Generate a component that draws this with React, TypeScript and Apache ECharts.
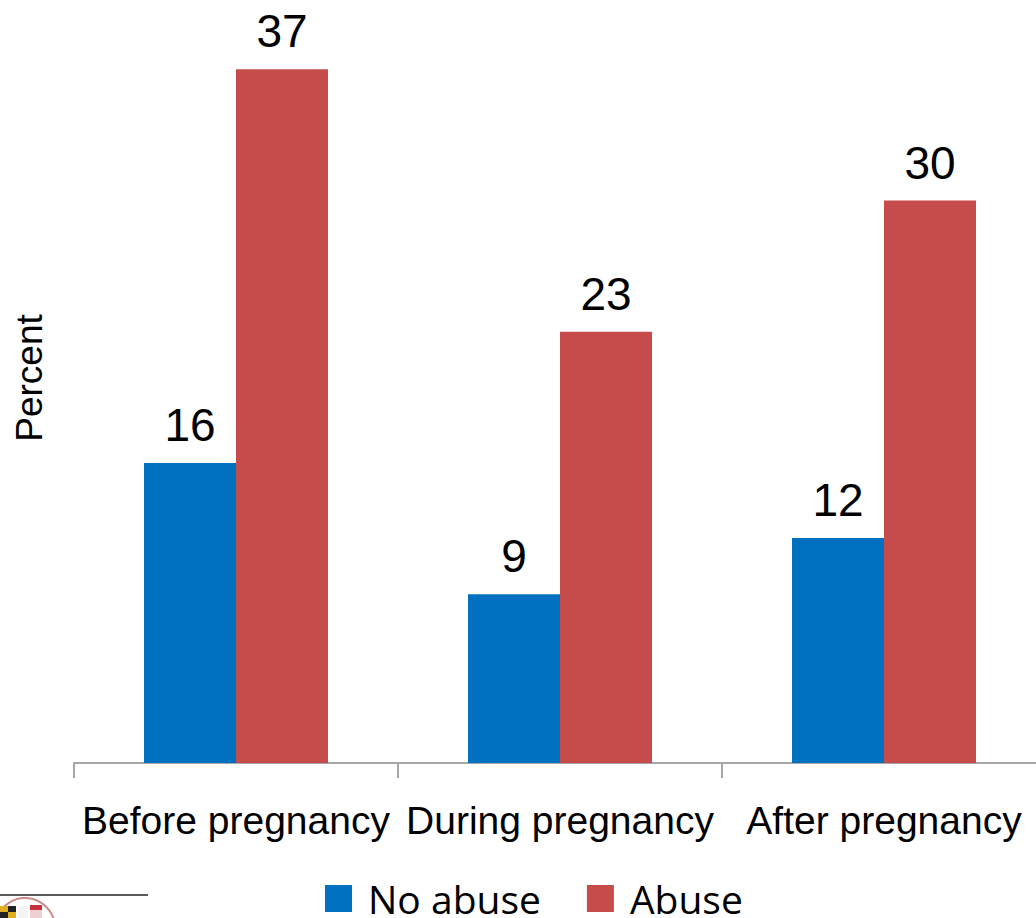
import React, { useEffect, useRef } from "react";
import * as echarts from "echarts";

const categories = ["Before pregnancy", "During pregnancy", "After pregnancy"];
const noAbuse = [16, 9, 12];
const abuse = [37, 23, 30];
const seriesNames = ["No abuse", "Abuse"];

export default function App() {
  const ref = useRef<HTMLDivElement>(null);
  useEffect(() => {
    const chart = echarts.init(ref.current!, null, { renderer: "svg" });
    const labelStyle = {
      show: true,
      position: "top" as const,
      distance: 15,
      fontFamily: "Liberation Sans, Arial, sans-serif",
      fontSize: 46,
      color: "#000",
    };
    chart.setOption({
      animation: false,
      backgroundColor: "#fff",
      grid: {
        left: 74,
        top: 13,
        width: 972,
        bottom: 155,
        containLabel: false,
        outerBoundsMode: "none",
      },
      legend: {
        data: seriesNames,
        left: 325,
        top: 879,
        padding: 0,
        itemWidth: 27,
        itemHeight: 27,
        itemGap: 46,
        icon: "rect",
        textStyle: {
          fontFamily: "Open Sans, sans-serif",
          fontSize: 39,
          lineHeight: 30,
          color: "#000",
          padding: [0, 0, 0, 11],
        },
      },
      xAxis: {
        type: "category",
        data: categories,
        axisLine: { lineStyle: { color: "#a6a6a6", width: 2 } },
        axisTick: { show: true, length: 15, lineStyle: { color: "#a6a6a6", width: 2 } },
        axisLabel: {
          margin: 38,
          fontFamily: "Liberation Sans, Arial, sans-serif",
          fontSize: 39,
          color: "#000",
          interval: 0,
        },
      },
      yAxis: {
        type: "value",
        min: 0,
        max: 40,
        show: true,
        name: "Percent",
        nameLocation: "middle",
        nameGap: 26,
        nameRotate: 90,
        nameTextStyle: {
          fontFamily: "Liberation Sans, Arial, sans-serif",
          fontSize: 37,
          color: "#000",
          padding: [0, 0, 0, 20],
        },
        axisLine: { show: false },
        axisTick: { show: false },
        axisLabel: { show: false },
        splitLine: { show: false },
      },
      series: [
        {
          name: seriesNames[0],
          type: "bar",
          data: noAbuse,
          barWidth: 92,
          barGap: "0%",
          itemStyle: { color: "#0070C0" },
          label: labelStyle,
        },
        {
          name: seriesNames[1],
          type: "bar",
          data: abuse,
          barWidth: 92,
          barGap: "0%",
          itemStyle: { color: "#C64B4B" },
          label: labelStyle,
        },
      ],
      graphic: [
        {
          type: "line",
          shape: { x1: 0, y1: 895, x2: 148, y2: 895 },
          style: { stroke: "#222", lineWidth: 1.5 },
        },
        {
          type: "circle",
          shape: { cx: 25, cy: 928, r: 30 },
          style: { fill: "#fff", stroke: "#d08a8a", lineWidth: 2 },
        },
        { type: "rect", shape: { x: 0, y: 906, width: 8, height: 6 }, style: { fill: "#e0b020" } },
        { type: "rect", shape: { x: 8, y: 906, width: 8, height: 6 }, style: { fill: "#222" } },
        { type: "rect", shape: { x: 0, y: 912, width: 8, height: 6 }, style: { fill: "#222" } },
        { type: "rect", shape: { x: 8, y: 912, width: 8, height: 6 }, style: { fill: "#e0b020" } },
        { type: "rect", shape: { x: 18, y: 906, width: 10, height: 12 }, style: { fill: "#f4f4f4" } },
        { type: "rect", shape: { x: 30, y: 905, width: 12, height: 5 }, style: { fill: "#c8323c" } },
        { type: "rect", shape: { x: 30, y: 910, width: 12, height: 8 }, style: { fill: "#f0d0d0" } },
      ],
    });
    return () => chart.dispose();
  }, []);
  return <div ref={ref} style={{ width: 1036, height: 918, position: "absolute", left: 0, top: 0 }} />;
}
